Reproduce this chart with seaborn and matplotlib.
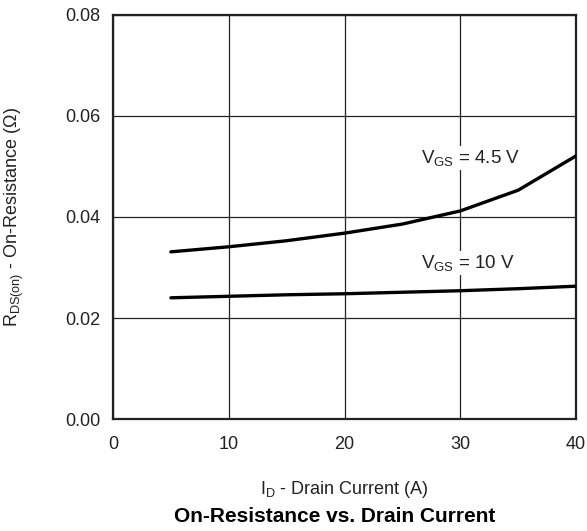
import pandas as pd
import matplotlib
matplotlib.use("Agg")
import matplotlib.pyplot as plt
import seaborn as sns

# Data
drain_current = [5, 10, 15, 20, 25, 30, 35, 40]
rds_vgs_45 = [0.0331, 0.0341, 0.0353, 0.0368, 0.0386, 0.0412, 0.0453, 0.0521]
rds_vgs_10 = [0.0240, 0.0243, 0.0246, 0.0248, 0.0251, 0.0254, 0.0258, 0.0263]

x_ticks = [0, 10, 20, 30, 40]
y_ticks = [0.00, 0.02, 0.04, 0.06, 0.08]
y_tick_labels = ["0.00", "0.02", "0.04", "0.06", "0.08"]

df = pd.DataFrame({
    "I_D": drain_current * 2,
    "R_DS": rds_vgs_45 + rds_vgs_10,
    "V_GS": ["4.5 V"] * len(drain_current) + ["10 V"] * len(drain_current),
})

sns.set_theme(style="white")
plt.rcParams["font.family"] = ["Liberation Sans", "DejaVu Sans"]
plt.rcParams["mathtext.fontset"] = "custom"
plt.rcParams["mathtext.rm"] = "Liberation Sans"
plt.rcParams["mathtext.it"] = "Liberation Sans:italic"

fig = plt.figure(figsize=(5.87, 5.31), dpi=100)
ax = fig.add_axes([0.1925, 0.2109, 0.7888, 0.7609])

sns.lineplot(data=df, x="I_D", y="R_DS", hue="V_GS", palette=["black", "black"],
             linewidth=2.4, legend=False, ax=ax, zorder=3)

ax.set_xlim(0, 40)
ax.set_ylim(0, 0.08)
ax.set_xticks(x_ticks)
ax.set_yticks(y_ticks)
ax.set_yticklabels(y_tick_labels)
ax.grid(True, color="#222222", linewidth=0.9)
ax.tick_params(axis="x", length=0, pad=12, labelsize=13, colors="#222222")
ax.tick_params(axis="y", length=0, pad=9, labelsize=13, colors="#222222")
for s in ax.spines.values():
    s.set_color("#222222")
    s.set_linewidth(1.6)

# curve labels (white box breaks the grid line like the original)
ax.text(26.6, 0.0517, r"V$_{\mathrm{GS}}$ = 4.5 V", fontsize=13.5, color="#222222",
        va="center", ha="left", zorder=4,
        bbox=dict(facecolor="white", edgecolor="none", pad=1.5))
ax.text(26.6, 0.0309, r"V$_{\mathrm{GS}}$ = 10 V", fontsize=13.5, color="#222222",
        va="center", ha="left", zorder=4,
        bbox=dict(facecolor="white", edgecolor="none", pad=1.5))

ax.set_xlabel(r"I$_{\mathrm{D}}$ - Drain Current (A)", fontsize=13, color="#222222")
ax.xaxis.set_label_coords(0.5, -0.148)
ax.set_ylabel(r"R$_{\mathrm{DS(on)}}$ - On-Resistance (Ω)", fontsize=13, color="#222222")
ax.yaxis.set_label_coords(-0.188, 0.5)

fig.text(335 / 587, 1 - 517 / 531, "On-Resistance vs. Drain Current",
         fontsize=15, fontweight="bold", ha="center", va="center", color="black")

fig.savefig("out.png", dpi=100)
